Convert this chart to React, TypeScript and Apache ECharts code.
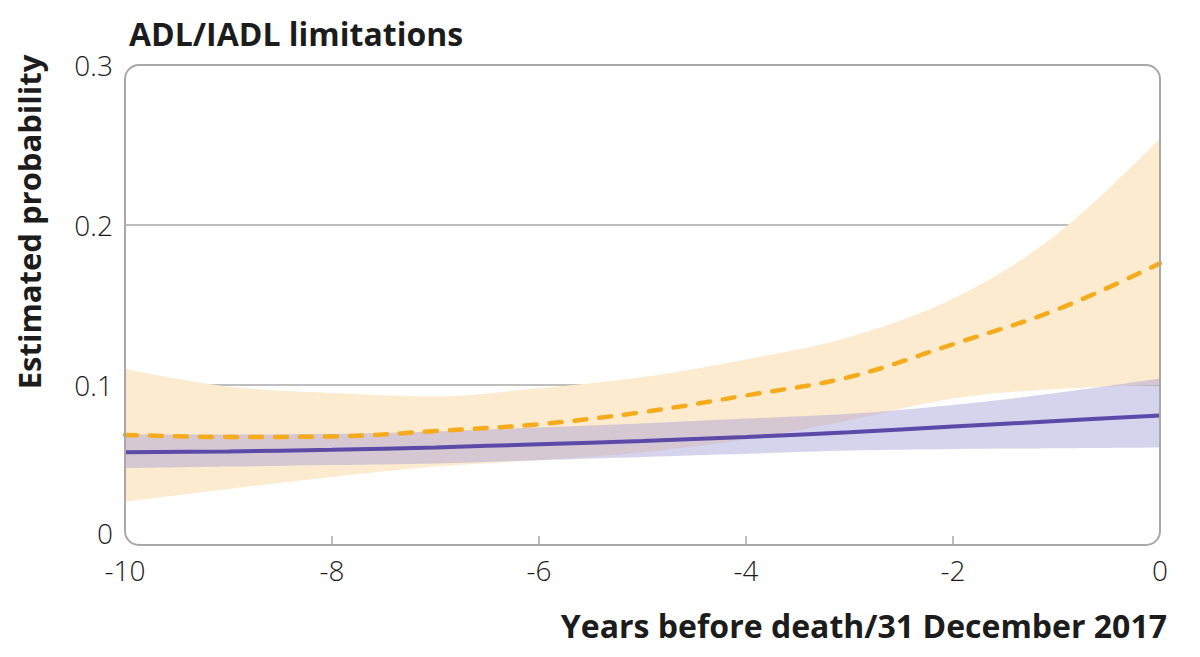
import React, { useEffect, useRef } from "react";
import * as echarts from "echarts";

// Years before death / 31 December 2017
const years = [-10, -9, -8, -7, -6, -5, -4, -3, -2, -1, 0];

// Orange (dashed) group: estimate and 95% band
const orangeMean = [0.0688, 0.0675, 0.0678, 0.0712, 0.0755, 0.083, 0.0935, 0.105, 0.1255, 0.147, 0.176];
const orangeUpper = [0.11, 0.099, 0.095, 0.093, 0.098, 0.105, 0.116, 0.13, 0.154, 0.194, 0.254];
const orangeLower = [0.027, 0.035, 0.0425, 0.049, 0.053, 0.058, 0.066, 0.078, 0.0915, 0.0975, 0.1];

// Purple (solid) group: estimate and 95% band
const purpleMean = [0.058, 0.0585, 0.0595, 0.061, 0.063, 0.065, 0.0675, 0.0705, 0.074, 0.0775, 0.081];
const purpleUpper = [0.069, 0.069, 0.0695, 0.071, 0.0735, 0.076, 0.079, 0.082, 0.0875, 0.095, 0.104];
const purpleLower = [0.048, 0.049, 0.05, 0.051, 0.053, 0.055, 0.057, 0.059, 0.06, 0.0605, 0.061];

const xTickValues = [-8, -6, -4, -2];
const xLabelValues = [-10, -8, -6, -4, -2, 0];
const titleText = "ADL/IADL limitations";
const yName = "Estimated probability";
const xName = "Years before death/31 December 2017";

const FONT = '"Open Sans", "Noto Sans", sans-serif';

export default function App() {
  const ref = useRef<HTMLDivElement>(null);

  useEffect(() => {
    if (!ref.current) return;
    const chart = echarts.init(ref.current, null, { renderer: "svg" });

    const diff = (u: number[], l: number[]) => u.map((v, i) => +(v - l[i]).toFixed(5));

    const gridLeft = 125;
    const gridTop = 65;
    const gridRight = 40;
    const gridBottom = 112;
    const W = 1200;
    const H = 657;

    const hidden = { opacity: 0, width: 0 };
    const SMOOTH = 0.35;

    const option: any = {
      animation: false,
      backgroundColor: "#ffffff",
      title: {
        text: titleText,
        left: gridLeft - 1,
        top: 12,
        textStyle: {
          fontFamily: FONT,
          fontSize: 32,
          fontWeight: "bold",
          color: "#1c1c1c",
        },
      },
      grid: {
        left: gridLeft,
        right: gridRight,
        top: gridTop,
        bottom: gridBottom,
        containLabel: false,
      },
      xAxis: {
        type: "category",
        data: years.map(String),
        boundaryGap: false,
        axisLine: { show: false },
        axisTick: {
          show: true,
          inside: true,
          length: 9,
          interval: (i: number) => xTickValues.includes(years[i]),
          lineStyle: { color: "#a8a8a8", width: 1.5 },
        },
        axisLabel: {
          margin: 11,
          interval: (i: number) => xLabelValues.includes(years[i]),
          fontFamily: FONT,
          fontSize: 28,
          fontWeight: 300,
          color: "#1c1c1c",
        },
        splitLine: { show: false },
      },
      yAxis: {
        type: "value",
        min: 0,
        max: 0.3,
        interval: 0.1,
        axisLine: { show: false },
        axisTick: { show: false },
        axisLabel: {
          margin: 12,
          fontFamily: FONT,
          fontSize: 28,
          fontWeight: 300,
          color: "#1c1c1c",
          formatter: (v: number) => {
            const s = String(Number(v.toFixed(1)));
            return v === 0 ? "{z|" + s + "}" : s;
          },
          rich: {
            z: {
              fontFamily: FONT,
              fontSize: 28,
              fontWeight: 300,
              color: "#1c1c1c",
              padding: [0, 0, 24, 0],
            },
          },
        },
        splitLine: {
          show: true,
          lineStyle: {
            color: ["rgba(0,0,0,0)", "#a8a8a8", "#a8a8a8", "rgba(0,0,0,0)"],
            width: 1.5,
          },
        },
      },
      series: [
        {
          name: "orange lower",
          type: "line",
          data: orangeLower,
          stack: "orangeBand",
          smooth: SMOOTH,
          symbol: "none",
          lineStyle: hidden,
          silent: true,
          z: 1,
        },
        {
          name: "orange band",
          type: "line",
          data: diff(orangeUpper, orangeLower),
          stack: "orangeBand",
          smooth: SMOOTH,
          symbol: "none",
          lineStyle: hidden,
          areaStyle: { color: "#fdebcf", opacity: 1 },
          silent: true,
          z: 1,
        },
        {
          name: "purple lower",
          type: "line",
          data: purpleLower,
          stack: "purpleBand",
          smooth: SMOOTH,
          symbol: "none",
          lineStyle: hidden,
          silent: true,
          z: 2,
        },
        {
          name: "purple band",
          type: "line",
          data: diff(purpleUpper, purpleLower),
          stack: "purpleBand",
          smooth: SMOOTH,
          symbol: "none",
          lineStyle: hidden,
          areaStyle: { color: "rgba(162,154,214,0.44)", opacity: 1 },
          silent: true,
          z: 2,
        },
        {
          name: "orange estimate",
          type: "line",
          data: orangeMean,
          smooth: SMOOTH,
          symbol: "none",
          lineStyle: {
            color: "#f6ab1c",
            width: 4.5,
            type: [12, 13],
            cap: "round",
          },
          z: 3,
        },
        {
          name: "purple estimate",
          type: "line",
          data: purpleMean,
          smooth: SMOOTH,
          symbol: "none",
          lineStyle: { color: "#5b4aa8", width: 4 },
          z: 4,
        },
      ],
      graphic: [
        {
          type: "rect",
          z: 100,
          silent: true,
          shape: {
            x: gridLeft,
            y: gridTop,
            width: W - gridLeft - gridRight,
            height: H - gridTop - gridBottom,
            r: 14,
          },
          style: { fill: "none", stroke: "#a8a8a8", lineWidth: 2 },
        },
        {
          type: "text",
          x: 29,
          y: 222,
          rotation: Math.PI / 2,
          style: {
            text: yName,
            fontFamily: FONT,
            fontSize: 31,
            fontWeight: "bold",
            fill: "#1c1c1c",
            align: "center",
            verticalAlign: "middle",
          },
        },
        {
          type: "text",
          x: 1167,
          y: 625,
          style: {
            text: xName,
            fontFamily: FONT,
            fontSize: 32,
            fontWeight: "bold",
            fill: "#1c1c1c",
            align: "right",
            verticalAlign: "middle",
          },
        },
      ],
    };

    chart.setOption(option);
    return () => {
      chart.dispose();
    };
  }, []);

  return (
    <div
      ref={ref}
      style={{ position: "fixed", left: 0, top: 0, width: 1200, height: 657 }}
    />
  );
}
